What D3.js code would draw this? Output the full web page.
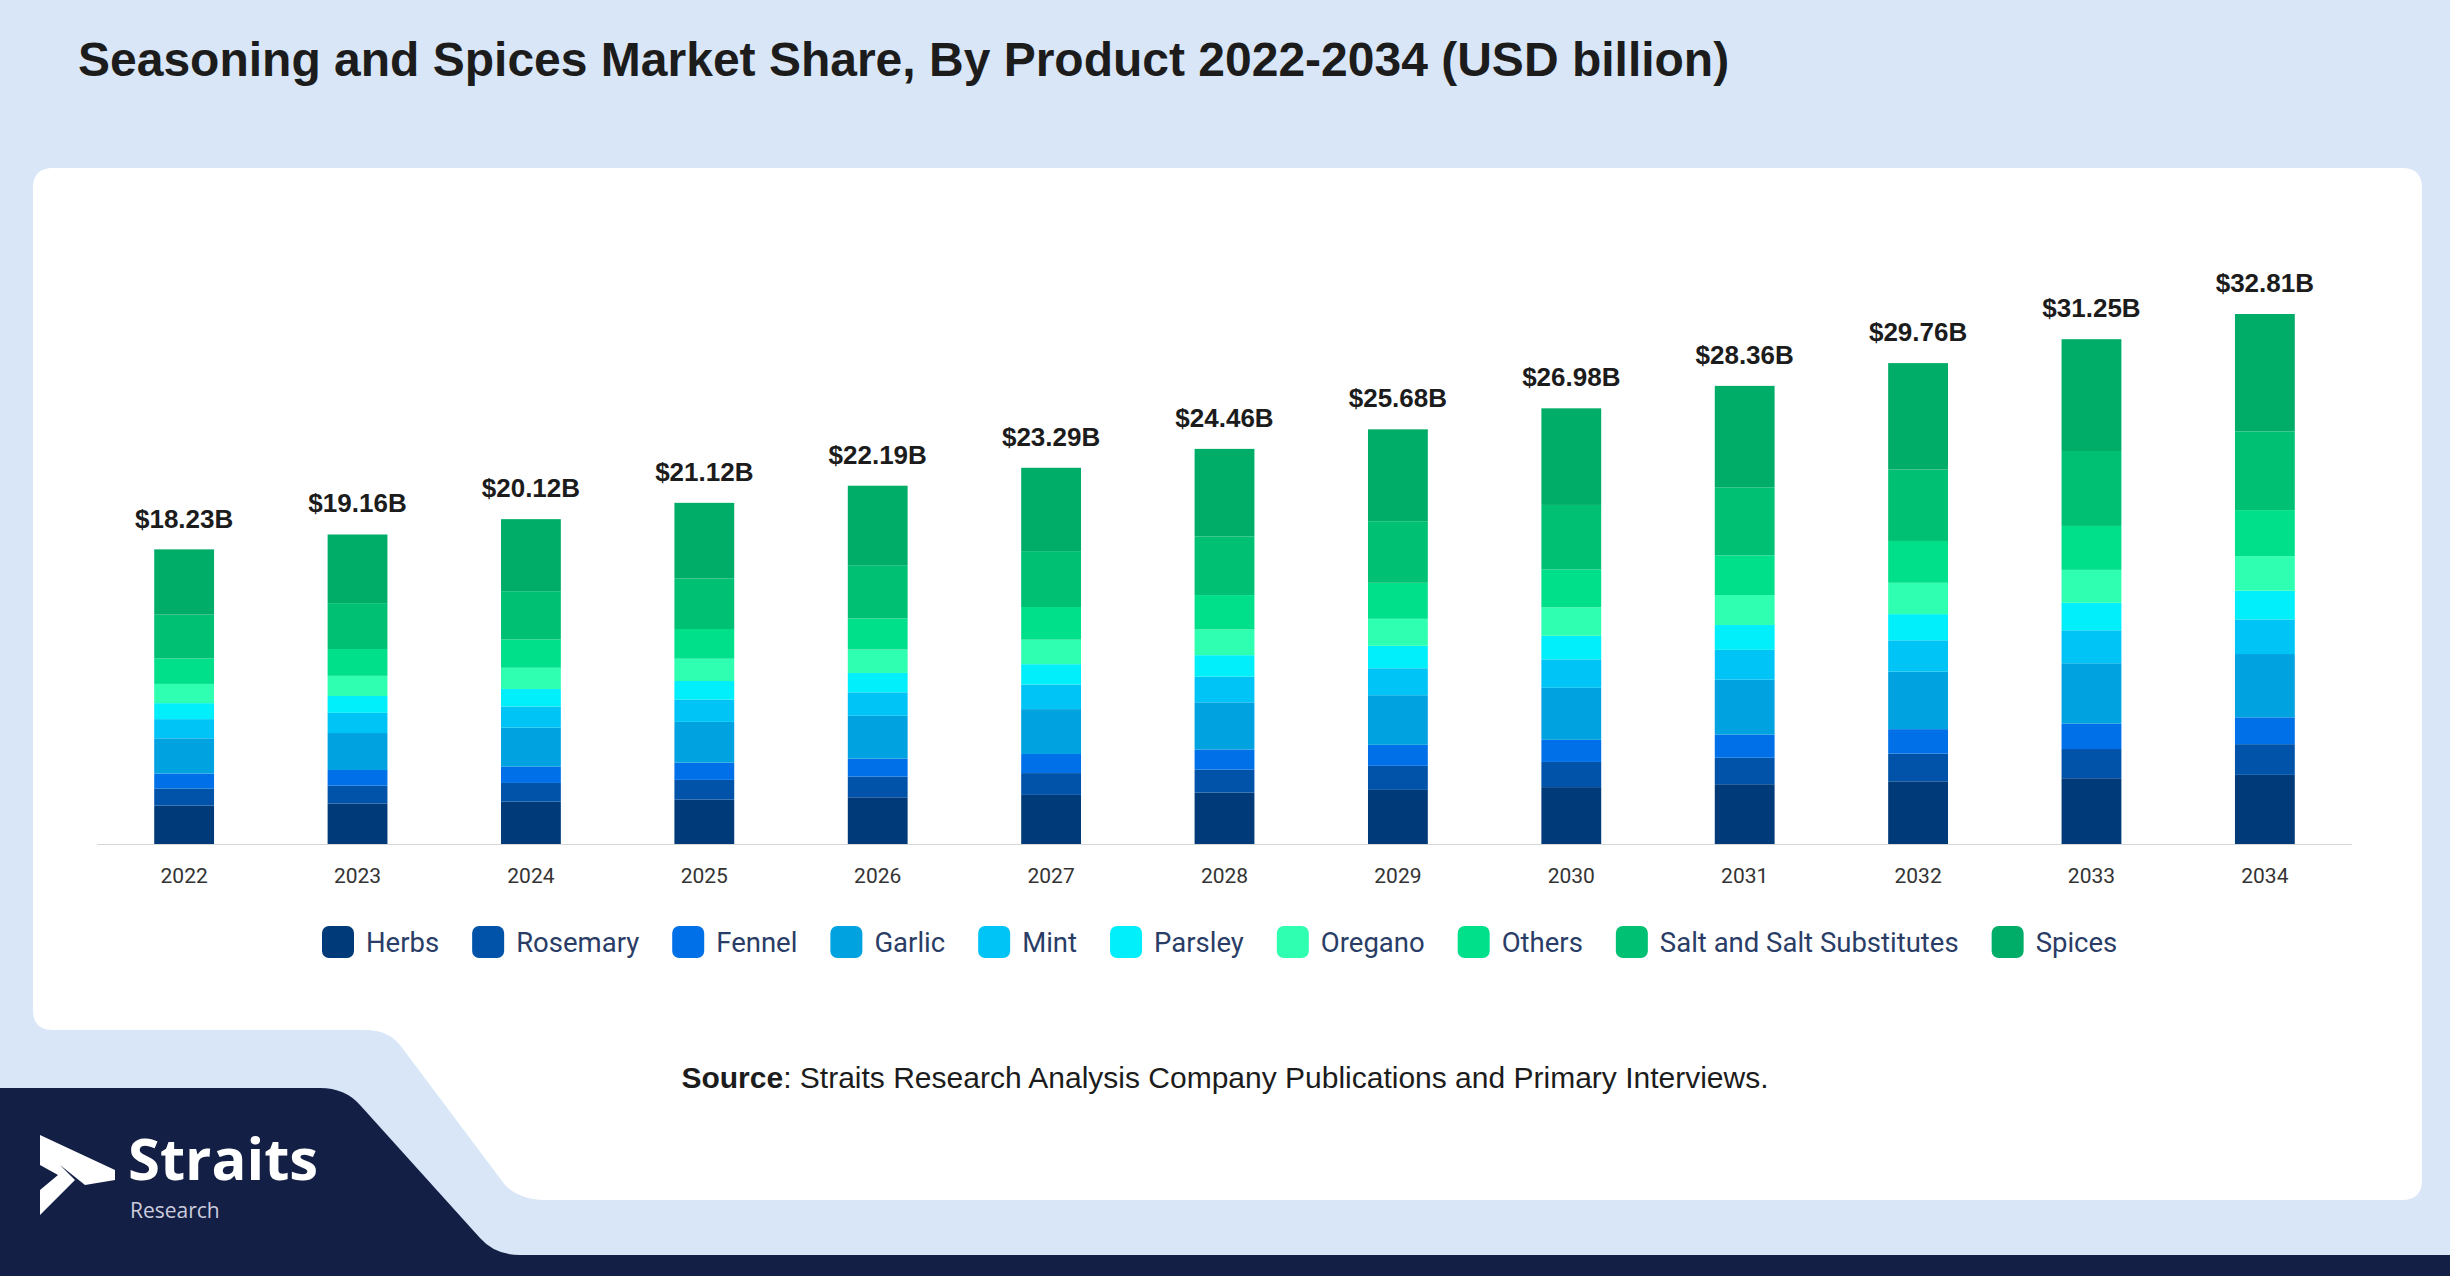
<!DOCTYPE html>
<html><head><meta charset="utf-8">
<script src="https://cdn.jsdelivr.net/npm/d3@7"></script>
<style>body{margin:0;background:#d9e6f7;}svg{display:block;font-family:"Liberation Sans",Arial,sans-serif;}</style>
</head><body><svg id="c" width="2450" height="1276"></svg>
<script>
var years = ["2022","2023","2024","2025","2026","2027","2028","2029","2030","2031","2032","2033","2034"];
var totals = [18.23,19.16,20.12,21.12,22.19,23.29,24.46,25.68,26.98,28.36,29.76,31.25,32.81];
var seriesNames = ["Herbs","Rosemary","Fennel","Garlic","Mint","Parsley","Oregano","Others","Salt and Salt Substitutes","Spices"];
var colors = ["#003a78","#0053a8","#0070e8","#00a3e0","#00c4f5","#00effa","#2effb0","#00e08a","#00c073","#00ad68"];
var herbs = [2.38,2.50,2.62,2.75,2.89,3.04,3.19,3.35,3.52,3.70,3.88,4.07,4.28];
var rosemary = [1.06,1.11,1.16,1.22,1.28,1.35,1.42,1.49,1.56,1.64,1.72,1.81,1.90];
var fennel = [0.92,0.97,1.02,1.07,1.12,1.18,1.24,1.30,1.37,1.44,1.51,1.58,1.66];
var garlic = [2.18,2.29,2.40,2.52,2.65,2.78,2.92,3.07,3.22,3.39,3.56,3.73,3.92];
var mint = [1.19,1.25,1.31,1.38,1.45,1.52,1.59,1.67,1.76,1.85,1.94,2.04,2.14];
var parsley = [0.99,1.04,1.09,1.15,1.20,1.26,1.33,1.39,1.46,1.54,1.62,1.70,1.78];
var oregano = [1.19,1.25,1.31,1.38,1.45,1.52,1.59,1.67,1.76,1.85,1.94,2.04,2.14];
var others = [1.58,1.66,1.75,1.84,1.93,2.02,2.13,2.23,2.34,2.46,2.59,2.72,2.85];
var salt = [2.71,2.84,2.99,3.13,3.29,3.46,3.63,3.81,4.00,4.21,4.42,4.64,4.87];
var spices = [4.04,4.25,4.46,4.68,4.92,5.16,5.42,5.69,5.98,6.28,6.59,6.92,7.27];
var seriesValues = [herbs,rosemary,fennel,garlic,mint,parsley,oregano,others,salt,spices];

var svg = d3.select("#c");

// background pieces
svg.append("path")
  .attr("d","M33,188 Q33,168 53,168 L2402,168 Q2422,168 2422,188 L2422,1180 Q2422,1200 2402,1200 L545,1200 Q520,1200 505,1185 L400,1045 Q388,1030 365,1030 L53,1030 Q33,1030 33,1010 Z")
  .attr("fill","#fff");
svg.append("path")
  .attr("d","M0,1088 L320,1088 Q345,1088 360,1105 L480,1238 Q495,1255 520,1255 L2450,1255 L2450,1276 L0,1276 Z")
  .attr("fill","#131f45");

svg.append("text").attr("x",78).attr("y",76).attr("font-size",48).attr("font-weight","bold")
  .attr("fill","#1c1c1c").text("Seasoning and Spices Market Share, By Product 2022-2034 (USD billion)");

var x = d3.scaleBand().domain(years).range([97,2352]).paddingInner(0.655).paddingOuter(0.33);
var y = d3.scaleLinear().domain([0,32.81]).range([844,314]);

var stackData = years.map(function (yr, i) {
  var o = {year: yr};
  seriesNames.forEach(function (s, j) { o[s] = seriesValues[j][i]; });
  return o;
});
var stacked = d3.stack().keys(seriesNames)(stackData);

svg.append("g").selectAll("g").data(stacked).join("g")
  .attr("fill", function (d, i) { return colors[i]; })
  .selectAll("rect").data(function (d) { return d; }).join("rect")
  .attr("x", function (d) { return x(d.data.year); })
  .attr("width", x.bandwidth())
  .attr("y", function (d) { return y(d[1]); })
  .attr("height", function (d) { return y(d[0]) - y(d[1]); });

var axis = svg.append("g").attr("transform","translate(0,844)")
  .call(d3.axisBottom(x).tickSize(0).tickPadding(24));
axis.select(".domain").attr("stroke","#d6d6d6").attr("d","M97,0.5H2352");
axis.selectAll("text").attr("font-size",21).attr("fill","#333").attr("font-family","Roboto, sans-serif");

svg.append("g").selectAll("text").data(years).join("text")
  .attr("x", function (d) { return x(d) + x.bandwidth() / 2; })
  .attr("y", function (d, i) { return y(totals[i]) - 22; })
  .attr("text-anchor","middle").attr("font-size",26).attr("font-weight","bold").attr("fill","#1c1c1c")
  .text(function (d, i) { return "$" + totals[i].toFixed(2) + "B"; });

// legend
var lg = svg.append("g").attr("font-family","Roboto, sans-serif");
var lx = 322;
seriesNames.forEach(function (s, i) {
  var it = lg.append("g").attr("transform","translate(" + lx + ",942)");
  it.append("rect").attr("x",0).attr("y",-16).attr("width",32).attr("height",32).attr("rx",7).attr("fill",colors[i]);
  var t = it.append("text").attr("x",44).attr("y",10).attr("font-size",27.5).attr("fill","#2a3d66").text(s);
  lx += 44 + t.node().getComputedTextLength() + 33;
});

var src = svg.append("text").attr("x",1225).attr("y",1088).attr("text-anchor","middle").attr("font-size",30).attr("fill","#1c1c1c");
src.append("tspan").attr("font-weight","bold").text("Source");
src.append("tspan").text(": Straits Research Analysis Company Publications and Primary Interviews.");

// logo
svg.append("path").attr("d","M40,1135 L115,1170 L115,1180 L85,1185 L60,1165 L75,1180 L40,1215 L40,1190 L58,1175 L40,1165 Z").attr("fill","#fff");
svg.append("text").attr("x",128).attr("y",1180).attr("font-size",58).attr("font-weight","bold").attr("font-family","'Open Sans',sans-serif").attr("fill","#fff").text("Straits");
svg.append("text").attr("x",130).attr("y",1218).attr("font-size",21).attr("font-family","'Open Sans',sans-serif").attr("fill","#ccd").text("Research");
</script></body></html>
